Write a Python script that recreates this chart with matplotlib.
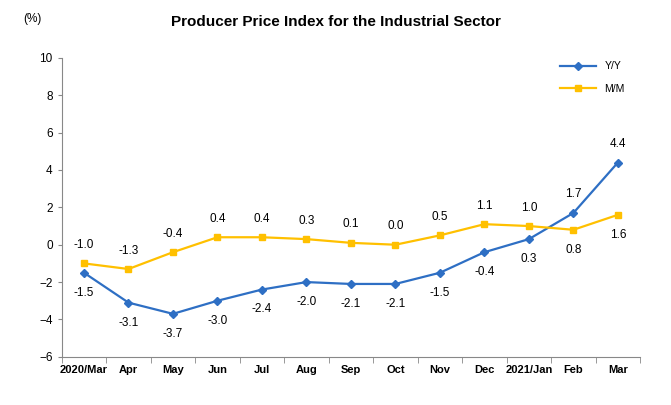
import matplotlib.pyplot as plt
import numpy as np

months = ['2020/Mar', 'Apr', 'May', 'Jun', 'Jul', 'Aug', 'Sep', 'Oct', 'Nov', 'Dec', '2021/Jan', 'Feb', 'Mar']
yy = [-1.5, -3.1, -3.7, -3.0, -2.4, -2.0, -2.1, -2.1, -1.5, -0.4, 0.3, 1.7, 4.4]
mm = [-1.0, -1.3, -0.4, 0.4, 0.4, 0.3, 0.1, 0.0, 0.5, 1.1, 1.0, 0.8, 1.6]

plt.rcParams['font.family'] = ['Liberation Sans', 'DejaVu Sans']
fig = plt.figure(figsize=(6.71, 4.05), dpi=100)
ax = fig.add_axes([0.092, 0.119, 0.862, 0.738])
x = np.arange(len(months))

ax.plot(x, yy, color='#2E6FC4', marker='D', markersize=4, lw=1.6, label='Y/Y')
ax.plot(x, mm, color='#FFC000', marker='s', markersize=5, lw=1.6, label='M/M')

for i in x:
    above_yy = i >= 11
    ax.annotate(f'{yy[i]:.1f}', (i, yy[i]), xytext=(0, 9 if above_yy else -10),
                textcoords='offset points', ha='center', va='bottom' if above_yy else 'top', fontsize=8.5)
    above_mm = i < 11
    ax.annotate(f'{mm[i]:.1f}', (i, mm[i]), xytext=(0, 9 if above_mm else -10),
                textcoords='offset points', ha='center', va='bottom' if above_mm else 'top', fontsize=8.5)

ax.set_ylim(-6, 10)
ax.set_yticks(range(-6, 11, 2))
ax.set_xlim(-0.5, len(months) - 0.5)
ax.set_xticks(x)
ax.set_xticklabels(months, fontsize=8, fontweight='bold')
ax.set_xticks(np.arange(-0.5, len(months), 1), minor=True)
ax.tick_params(axis='x', which='major', length=0, pad=6)
ax.tick_params(axis='x', which='minor', length=4, color='#888888')
ax.tick_params(axis='y', labelsize=8.5, length=3, color='#888888')
for s in ['top', 'right']:
    ax.spines[s].set_visible(False)
ax.spines['left'].set_color('#888888')
ax.spines['bottom'].set_color('#888888')

fig.text(0.035, 0.945, '(%)', fontsize=8.5)
fig.text(0.5, 0.935, 'Producer Price Index for the Industrial Sector', ha='center',
         fontsize=11, fontweight='bold')
ax.legend(loc='upper right', bbox_to_anchor=(0.99, 1.02), frameon=False, fontsize=7.5,
          handlelength=3.5, labelspacing=1.2)

fig.savefig('out.png', dpi=100)
